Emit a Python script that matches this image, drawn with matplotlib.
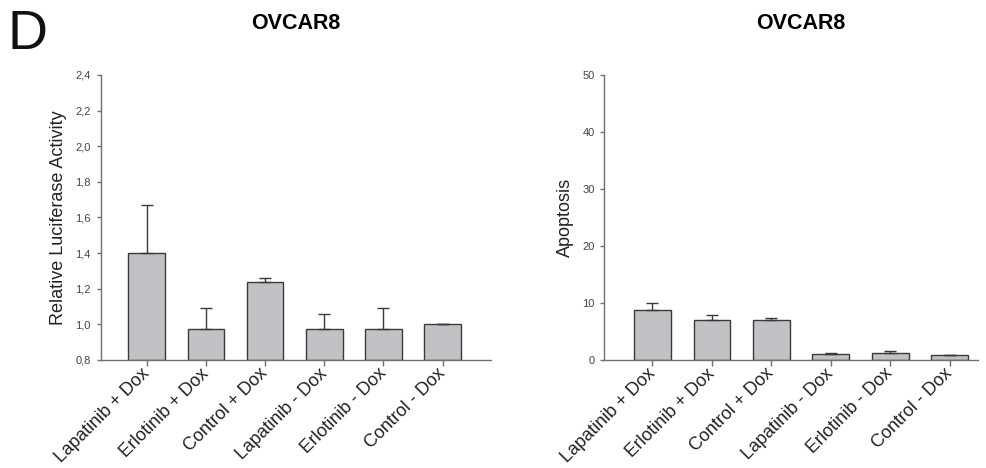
import numpy as np
import matplotlib
matplotlib.use("Agg")
import matplotlib.pyplot as plt

plt.rcParams['font.family'] = ['Liberation Sans', 'DejaVu Sans']

# ---------------------------
# Data
# ---------------------------
groups = ["Lapatinib + Dox", "Erlotinib + Dox", "Control + Dox",
          "Lapatinib - Dox", "Erlotinib - Dox", "Control - Dox"]

luciferase = [1.40, 0.975, 1.235, 0.975, 0.975, 1.00]
luciferase_err = [0.27, 0.115, 0.025, 0.083, 0.115, 0.0]

apoptosis = [8.7, 7.1, 7.1, 1.1, 1.3, 0.8]
apoptosis_err = [1.3, 0.8, 0.25, 0.12, 0.35, 0.1]

luc_ticks = [0.8, 1.0, 1.2, 1.4, 1.6, 1.8, 2.0, 2.2, 2.4]
apo_ticks = [0, 10, 20, 30, 40, 50]

BAR = "#c1c2c5"
EDGE = "#3a3a3a"
AXIS = "#707070"
TICKTXT = "#444444"


def draw_panel(ax, values, errors, ylim, yticks, ylabel, xlim, fmt):
    """Bar chart with upper error bars only"""
    x = np.arange(len(values))
    ax.bar(x, [v - ylim[0] for v in values], bottom=ylim[0], width=0.62,
           color=BAR, edgecolor=EDGE, linewidth=1.0, zorder=2)
    low = np.zeros(len(errors))
    ax.errorbar(x, values, yerr=[low, errors], fmt="none", ecolor=EDGE,
                elinewidth=1.0, capsize=4.5, capthick=1.0, zorder=3)

    ax.set_xlim(*xlim)
    ax.set_ylim(*ylim)
    ax.set_yticks(yticks)
    ax.set_yticklabels([fmt(t) for t in yticks])
    ax.set_xticks(x)
    ax.set_xticklabels(groups, rotation=45, ha="right", va="center",
                       rotation_mode="anchor", fontsize=13, color="#222222")
    ax.tick_params(axis="x", length=4, width=1, color=AXIS, pad=4)
    ax.tick_params(axis="y", length=3, width=1, color=AXIS, labelsize=8,
                   labelcolor=TICKTXT, pad=4)
    ax.set_ylabel(ylabel, fontsize=13, color="#222222")

    for side in ["top", "right"]:
        ax.spines[side].set_visible(False)
    for side in ["left", "bottom"]:
        ax.spines[side].set_color(AXIS)
        ax.spines[side].set_linewidth(1.0)


fig = plt.figure(figsize=(9.87, 4.68), dpi=100)

ax1 = fig.add_axes([0.102, 0.2308, 0.395, 0.609])
draw_panel(ax1, luciferase, luciferase_err, (0.8, 2.4), luc_ticks,
           "Relative Luciferase Activity", (-0.78, 5.81),
           lambda t: f"{t:.1f}".replace(".", ","))
ax1.yaxis.set_label_coords(-0.086, 0.5)
ax1.set_title("OVCAR8", fontsize=15.5, fontweight="bold", pad=33)

ax2 = fig.add_axes([0.6123, 0.2308, 0.3783, 0.609])
draw_panel(ax2, apoptosis, apoptosis_err, (0, 50), apo_ticks,
           "Apoptosis", (-0.81, 5.47), lambda t: f"{t:d}")
ax2.yaxis.set_label_coords(-0.081, 0.5)
ax2.set_title("OVCAR8", fontsize=15.5, fontweight="bold", pad=33, x=0.527)

fig.text(0.008, 0.895, "D", fontsize=40, color="#111111")

fig.savefig("out.png", dpi=100)
